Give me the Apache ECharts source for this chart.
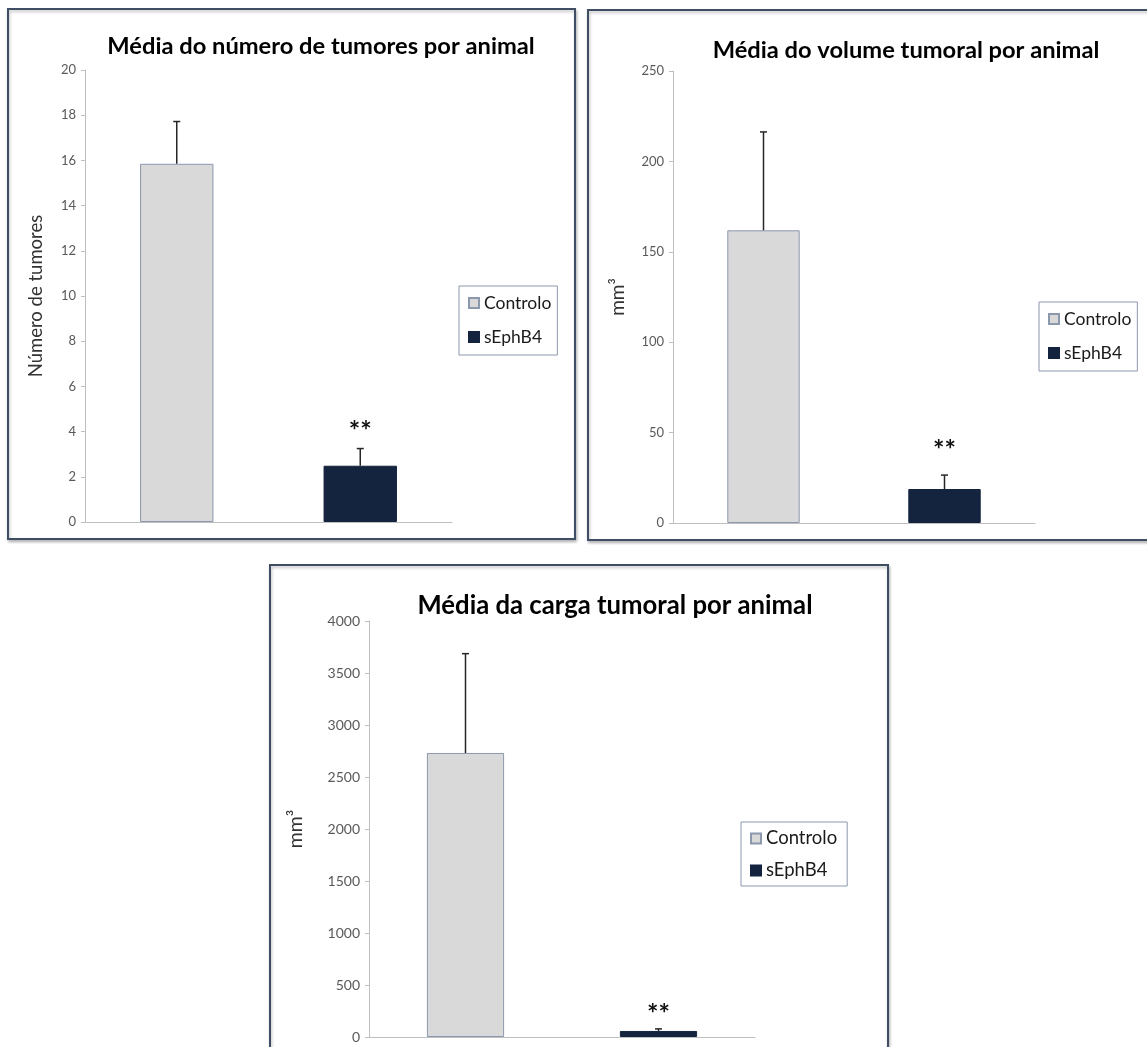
<!DOCTYPE html>
<html>
<head>
<meta charset="utf-8">
<script src="https://cdn.jsdelivr.net/npm/echarts@6/dist/echarts.min.js"></script>
<style>
html,body{margin:0;padding:0;background:#fff;}
#c{width:1147px;height:1047px;}
</style>
</head>
<body>
<div id="c"></div>
<script>
// ---- data ----
const categories = ['Controlo', 'sEphB4'];
const titles = ['Média do número de tumores por animal', 'Média do volume tumoral por animal', 'Média da carga tumoral por animal'];
const yNames = ['Número de tumores', 'mm³', 'mm³'];
const countMean = [15.85, 2.49];
const countUpper = [17.72, 3.25];
const volumeMean = [161.9, 18.8];
const volumeUpper = [216.3, 26.5];
const burdenMean = [2731, 58];
const burdenUpper = [3686, 78];
const signifLabel = '**';
const signifValue = [4.0, 40, 215];
const yMax = [20, 250, 4000];
const yInterval = [2, 50, 500];

const FONT = 'Lato, "Liberation Sans", sans-serif';
const means = [countMean, volumeMean, burdenMean];
const uppers = [countUpper, volumeUpper, burdenUpper];

const grids = [
  {left: 85, right: 1147 - 452, top: 70, bottom: 1047 - 522},
  {left: 673, right: 1147 - 1035, top: 71, bottom: 1047 - 523},
  {left: 369, right: 1147 - 755, top: 621, bottom: 1047 - 1037}
];
const titlePos = [{x: 316, y: 29}, {x: 901, y: 33}, {x: 610, y: 588}];
const titleSize = [23.7, 23.7, 25.7];
const tickSize = [13, 13, 14];
const legendSize = [17.5, 17.5, 18.5];
const nameSize = [18.5, 19, 19.5];
const legendPos = [{left: 459, top: 286}, {left: 1039, top: 302}, {left: 741, top: 822}];
const legendGap = [16, 16, 13];
const legendPad = [[8, 6, 9, 9], [8, 6, 9, 9], [7, 10, 6, 9]];
const nameGaps = [39, 46, 63];
const frames = [
  {x: 8, y: 9, width: 567, height: 530},
  {x: 588, y: 10, width: 580, height: 530},
  {x: 270, y: 565, width: 618, height: 500}
];

const colCtrl = '#d9d9d9', colCtrlBorder = '#8c98ad';
const colTreat = '#14243e';

const option = {
  backgroundColor: '#fff',
  animation: false,
  title: titles.map((t, i) => ({
    text: t, left: titlePos[i].x, top: titlePos[i].y, textAlign: 'center',
    textStyle: {fontFamily: FONT, fontWeight: 'bold', fontSize: titleSize[i], color: '#000'}
  })),
  graphic: frames.map(f => ({
    type: 'rect', shape: f, z: -10,
    style: {fill: '#fff', stroke: '#3f4e64', lineWidth: 2, shadowBlur: 3, shadowOffsetX: 1, shadowOffsetY: 2, shadowColor: 'rgba(0,0,0,0.25)'}
  })),
  legend: legendPos.map((p, i) => ({
    left: p.left, top: p.top, orient: 'vertical',
    data: categories.map(c => ({name: c + (i ? '\u200b'.repeat(i) : '')})),
    itemWidth: 10, itemHeight: 10, itemGap: legendGap[i],
    padding: legendPad[i],
    borderColor: '#8c98ad', borderWidth: 1,
    icon: 'rect',
    selectedMode: false,
    formatter: n => n.replace(/\u200b/g, ''),
    textStyle: {fontFamily: FONT, fontSize: legendSize[i], color: '#1a1a1a', lineHeight: 18}
  })),
  grid: grids,
  xAxis: grids.map((g, i) => ({
    type: 'category', gridIndex: i, data: categories,
    axisLine: {lineStyle: {color: '#bfbfbf', width: 1}},
    axisTick: {show: false}, axisLabel: {show: false}, splitLine: {show: false}
  })),
  yAxis: grids.map((g, i) => ({
    type: 'value', gridIndex: i, min: 0, max: yMax[i], interval: yInterval[i],
    name: yNames[i], nameLocation: 'middle', nameGap: nameGaps[i], nameRotate: 90,
    nameTextStyle: {fontFamily: FONT, fontSize: nameSize[i], color: '#333'},
    axisLine: {show: true, lineStyle: {color: '#bfbfbf'}},
    axisTick: {show: true, length: 4, lineStyle: {color: '#bfbfbf'}},
    axisLabel: {fontFamily: FONT, fontSize: tickSize[i], color: '#595959', margin: 9, formatter: v => String(v)},
    splitLine: {show: false}
  })),
  series: []
};

for (let i = 0; i < 3; i++) {
  const sfx = i ? '\u200b'.repeat(i) : '';
  option.series.push({
    name: categories[0] + sfx, type: 'bar', xAxisIndex: i, yAxisIndex: i,
    data: [means[i][0], '-'], barWidth: '40%', barGap: '-100%',
    itemStyle: {color: colCtrl, borderColor: colCtrlBorder, borderWidth: 1}
  });
  option.series.push({
    name: categories[1] + sfx, type: 'bar', xAxisIndex: i, yAxisIndex: i,
    data: ['-', means[i][1]], barWidth: '40%', barGap: '-100%',
    itemStyle: {color: colTreat, borderColor: colTreat, borderWidth: 1}
  });
  option.series.push({
    type: 'custom', xAxisIndex: i, yAxisIndex: i, z: 5,
    data: categories.map((c, k) => [k, means[i][k], uppers[i][k]]),
    renderItem: (params, api) => {
      const top = api.coord([api.value(0), api.value(2)]);
      const base = api.coord([api.value(0), api.value(1)]);
      const st = {stroke: '#262626', lineWidth: 1.5};
      return {type: 'group', children: [
        {type: 'line', shape: {x1: top[0], y1: base[1], x2: top[0], y2: top[1]}, style: st},
        {type: 'line', shape: {x1: top[0] - 3.5, y1: top[1], x2: top[0] + 3.5, y2: top[1]}, style: st}
      ]};
    }
  });
  option.series.push({
    type: 'custom', xAxisIndex: i, yAxisIndex: i, z: 6,
    data: [[1, signifValue[i]]],
    renderItem: (params, api) => {
      const p = api.coord([api.value(0), api.value(1)]);
      return {type: 'text', x: p[0], y: p[1], style: {
        text: signifLabel, fontFamily: FONT, fontWeight: 'bold', fontSize: 27, fill: '#111',
        align: 'center', verticalAlign: 'middle'
      }};
    }
  });
}

const chart = echarts.init(document.getElementById('c'), null, {renderer: 'canvas'});
chart.setOption(option);
</script>
</body>
</html>
